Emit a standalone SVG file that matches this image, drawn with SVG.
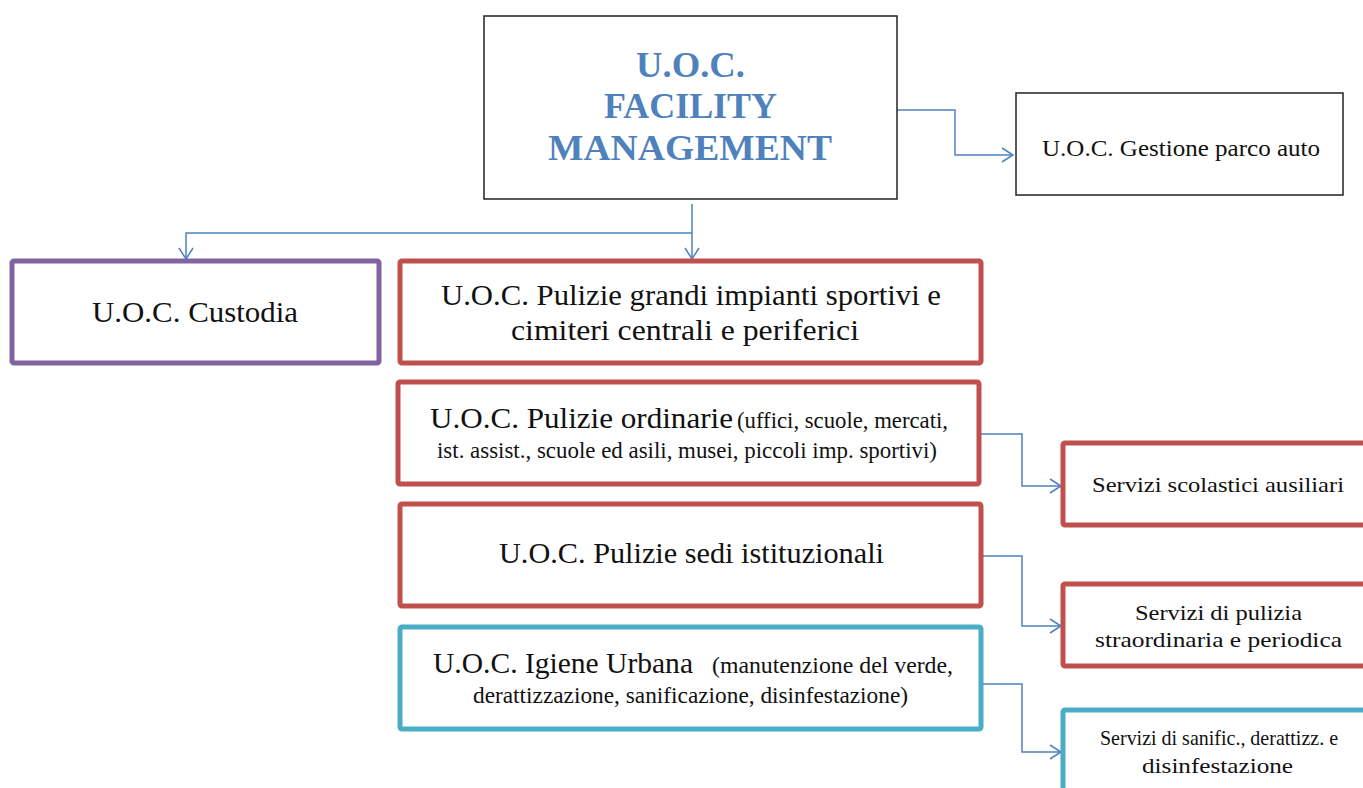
<svg xmlns="http://www.w3.org/2000/svg" width="1363" height="788" viewBox="0 0 1363 788">
<style>
text{font-family:"Liberation Serif","DejaVu Serif",serif;fill:#111}
.big{font-size:29px}
.sm{font-size:23px}
.xs{font-size:22px}
.title{font-size:36px;font-weight:bold;fill:#4F81BD}
.thin{fill:#fff;stroke:#222;stroke-width:1.5}
.red{fill:#fff;stroke:#C0504D;stroke-width:5}
.pur{fill:#fff;stroke:#8064A2;stroke-width:5}
.teal{fill:#fff;stroke:#4BACC6;stroke-width:5}
.con{fill:none;stroke:#4F81BD;stroke-width:1.5}
</style>
<defs>
<marker id="arr" markerWidth="14" markerHeight="16" refX="12" refY="8" orient="auto" markerUnits="userSpaceOnUse">
<path d="M1,1 L12,8 L1,15" fill="none" stroke="#4F81BD" stroke-width="1.5"/>
</marker>
</defs>
<rect width="1363" height="788" fill="#fff"/>
<g id="connectors">
<path class="con" d="M897,110 H955 V155 H1013" marker-end="url(#arr)"/>
<path class="con" d="M692,204 V259" marker-end="url(#arr)"/>
<path class="con" d="M692,233 H186 V259" marker-end="url(#arr)"/>
<path class="con" d="M979,434 H1022 V486 H1061" marker-end="url(#arr)"/>
<path class="con" d="M981,556 H1022 V626 H1061" marker-end="url(#arr)"/>
<path class="con" d="M981,684 H1022 V752 H1061" marker-end="url(#arr)"/>
</g>
<g id="n-facility">
<rect class="thin" x="484" y="16" width="413" height="183"/>
<text class="title" x="636" y="77" textLength="109" lengthAdjust="spacingAndGlyphs">U.O.C.</text>
<text class="title" x="604" y="118" textLength="173" lengthAdjust="spacingAndGlyphs">FACILITY</text>
<text class="title" x="548" y="160" textLength="284" lengthAdjust="spacingAndGlyphs">MANAGEMENT</text>
</g>
<g id="n-parco">
<rect class="thin" x="1016" y="93" width="327" height="102"/>
<text class="sm" x="1042" y="156" textLength="278" lengthAdjust="spacingAndGlyphs">U.O.C. Gestione parco auto</text>
</g>
<g id="n-custodia">
<rect class="pur" x="12" y="261" width="367" height="102" rx="2"/>
<text class="big" x="92" y="322" textLength="206" lengthAdjust="spacingAndGlyphs">U.O.C. Custodia</text>
</g>
<g id="n-grandi">
<rect class="red" x="400" y="261" width="581" height="102" rx="2"/>
<text class="big" x="441" y="305" textLength="500" lengthAdjust="spacingAndGlyphs">U.O.C. Pulizie grandi impianti sportivi e</text>
<text class="big" x="511" y="340" textLength="348" lengthAdjust="spacingAndGlyphs">cimiteri centrali e periferici</text>
</g>
<g id="n-ordinarie">
<rect class="red" x="398" y="382" width="581" height="102" rx="2"/>
<text class="big" x="430" y="428" textLength="303" lengthAdjust="spacingAndGlyphs">U.O.C. Pulizie ordinarie</text>
<text class="sm" x="737" y="428" textLength="211" lengthAdjust="spacingAndGlyphs">(uffici, scuole, mercati,</text>
<text class="sm" x="437" y="458" textLength="500" lengthAdjust="spacingAndGlyphs">ist. assist., scuole ed asili, musei, piccoli imp. sportivi)</text>
</g>
<g id="n-sedi">
<rect class="red" x="400" y="504" width="581" height="102" rx="2"/>
<text class="big" x="499" y="563" textLength="385" lengthAdjust="spacingAndGlyphs">U.O.C. Pulizie sedi istituzionali</text>
</g>
<g id="n-igiene">
<rect class="teal" x="400" y="627" width="581" height="102" rx="2"/>
<text class="big" x="433" y="673" textLength="260" lengthAdjust="spacingAndGlyphs">U.O.C. Igiene Urbana</text>
<text class="sm" x="712" y="673" textLength="241" lengthAdjust="spacingAndGlyphs">(manutenzione del verde,</text>
<text class="sm" x="473" y="703" textLength="435" lengthAdjust="spacingAndGlyphs">derattizzazione, sanificazione, disinfestazione)</text>
</g>
<g id="n-scolastici">
<rect class="red" x="1063" y="443" width="310" height="82" rx="2"/>
<text class="xs" x="1092" y="492" textLength="252" lengthAdjust="spacingAndGlyphs">Servizi scolastici ausiliari</text>
</g>
<g id="n-straord">
<rect class="red" x="1063" y="584" width="310" height="82" rx="2"/>
<text class="xs" x="1135" y="620" textLength="167" lengthAdjust="spacingAndGlyphs">Servizi di pulizia</text>
<text class="xs" x="1095" y="647" textLength="247" lengthAdjust="spacingAndGlyphs">straordinaria e periodica</text>
</g>
<g id="n-sanific">
<rect class="teal" x="1063" y="710" width="310" height="90" rx="2"/>
<text class="xs" x="1100" y="745" textLength="238" lengthAdjust="spacingAndGlyphs">Servizi di sanific., derattizz. e</text>
<text class="xs" x="1142" y="773" textLength="151" lengthAdjust="spacingAndGlyphs">disinfestazione</text>
</g>
</svg>
